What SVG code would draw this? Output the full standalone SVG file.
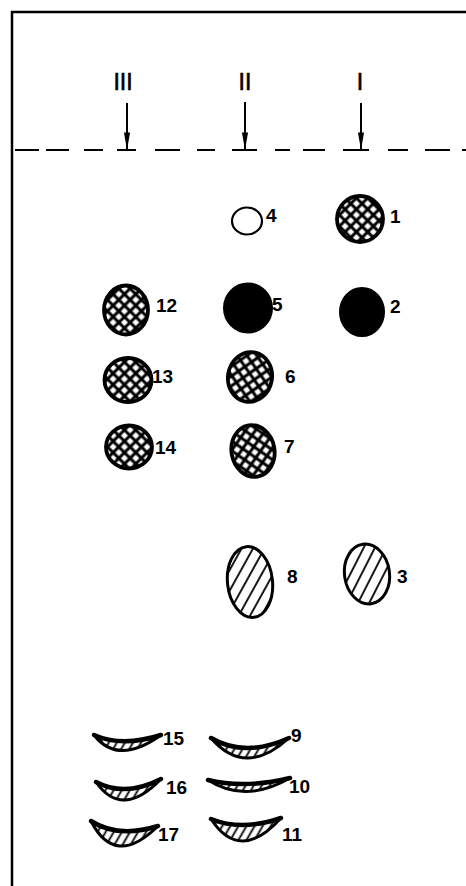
<svg xmlns="http://www.w3.org/2000/svg" width="466" height="886" viewBox="0 0 466 886">
<style>
.frame{fill:none;stroke:#000;stroke-width:2.5}
.dash{fill:none;stroke:#000;stroke-width:2.2}
.arrow{stroke:#000;stroke-width:2;marker-end:url(#ah)}
.roman{font-family:"Liberation Sans",Arial,sans-serif;font-weight:normal;font-size:23px;text-anchor:middle;fill:#000;stroke:#000;stroke-width:0.6}
.lbl{font-family:"Liberation Sans",Arial,sans-serif;font-weight:bold;font-size:19px;fill:#000}
.xh{fill:url(#cross);stroke:#000;stroke-width:3.8}
.solid{fill:#000;stroke:#000;stroke-width:2}
.open{fill:#fff;stroke:#000;stroke-width:2.2}
.dh{fill:url(#diag);stroke:#000;stroke-width:3}
.cr{fill:url(#hatch2);stroke:#000;stroke-width:3;stroke-linejoin:round}
.crtop{fill:none;stroke:#000;stroke-width:4.5;stroke-linecap:round}
</style>
<defs>
<marker id="ah" markerUnits="userSpaceOnUse" viewBox="0 0 20 8" markerWidth="20" markerHeight="7" refX="19" refY="4" orient="auto">
<path d="M0,0.5 L20,4 L0,7.5 Z" fill="#000"/>
</marker>
<pattern id="cross" patternUnits="userSpaceOnUse" width="8" height="8" patternTransform="rotate(45)">
<rect width="8" height="8" fill="#fff"/>
<path d="M0,0 H8 M0,8 H8 M0,0 V8 M8,0 V8" stroke="#000" stroke-width="3"/>
</pattern>
<pattern id="diag" patternUnits="userSpaceOnUse" width="10" height="10" patternTransform="rotate(35)">
<rect width="10" height="10" fill="#fff"/>
<path d="M5,0 V10" stroke="#000" stroke-width="1.8"/>
</pattern>
<pattern id="hatch2" patternUnits="userSpaceOnUse" width="7" height="7" patternTransform="rotate(30)">
<rect width="7" height="7" fill="#fff"/>
<path d="M3.5,0 V7" stroke="#000" stroke-width="1.8"/>
</pattern>
</defs>

<g id="plate">
<path class="frame" d="M12,886 V12 H466"/>
<path class="dash" d="M15,150H39 M46,150H69 M84,150H103 M117,150H136 M155,150H180 M197,150H215 M232,150H257 M275,150H290 M303,150H325 M343,150H369 M388,150H408 M425,150H450 M462,150H466"/>
</g>

<g id="origins">
<text class="roman" x="123" y="90">III</text>
<text class="roman" x="245" y="90">II</text>
<text class="roman" x="360" y="90">I</text>
<line class="arrow" x1="127" y1="103" x2="127" y2="149"/>
<line class="arrow" x1="245" y1="102" x2="245" y2="149"/>
<line class="arrow" x1="361" y1="103" x2="361" y2="149"/>
</g>

<g id="spot1"><ellipse class="xh" cx="360" cy="219" rx="23" ry="23"/><text class="lbl" x="390" y="223">1</text></g>
<g id="spot2"><ellipse class="solid" cx="362" cy="312" rx="22" ry="24"/><text class="lbl" x="390" y="313">2</text></g>
<g id="spot3"><ellipse class="dh" cx="367" cy="574" rx="22.5" ry="30" transform="rotate(-8 367 574)"/><text class="lbl" x="397" y="583">3</text></g>
<g id="spot4"><ellipse class="open" cx="247" cy="221" rx="15" ry="13.5"/><text class="lbl" x="266" y="222">4</text></g>
<g id="spot5"><ellipse class="solid" cx="248" cy="308" rx="24" ry="24.5"/><text class="lbl" x="272" y="311">5</text></g>
<g id="spot6"><ellipse class="xh" cx="250" cy="377" rx="22" ry="25" transform="rotate(10 250 377)"/><text class="lbl" x="285" y="383">6</text></g>
<g id="spot7"><ellipse class="xh" cx="253" cy="451" rx="21.5" ry="26" transform="rotate(-10 253 451)"/><text class="lbl" x="284" y="453">7</text></g>
<g id="spot8"><ellipse class="dh" cx="250" cy="582" rx="22.5" ry="35.5" transform="rotate(-6 250 582)"/><text class="lbl" x="287" y="583">8</text></g>
<g id="spot12"><ellipse class="xh" cx="126" cy="310" rx="22" ry="24.5"/><text class="lbl" x="156" y="312">12</text></g>
<g id="spot13"><ellipse class="xh" cx="128" cy="380" rx="23.5" ry="22"/><text class="lbl" x="152" y="383">13</text></g>
<g id="spot14"><ellipse class="xh" cx="129" cy="447" rx="23" ry="21.5"/><text class="lbl" x="155" y="454">14</text></g>

<g id="spot15"><path class="cr" d="M94,735 Q122,747.5 161,735 Q118,766 94,735 Z"/><path class="crtop" d="M94,735 Q122,747.5 161,735"/><text class="lbl" x="163" y="745">15</text></g>
<g id="spot9"><path class="cr" d="M211,738 Q245,758 289,738 Q245,778 211,738 Z"/><path class="crtop" d="M211,738 Q245,758 289,738"/><text class="lbl" x="291" y="742">9</text></g>
<g id="spot16"><path class="cr" d="M96,782 Q125,797.5 161,779 Q122,819.5 96,782 Z"/><path class="crtop" d="M96,782 Q125,797.5 161,779"/><text class="lbl" x="166" y="794">16</text></g>
<g id="spot10"><path class="cr" d="M208,780 Q245,789 290,778 Q245,804 208,780 Z"/><path class="crtop" d="M208,780 Q245,789 290,778"/><text class="lbl" x="289" y="793">10</text></g>
<g id="spot17"><path class="cr" d="M91,821 Q118,838.5 158,826 Q115,868.5 91,821 Z"/><path class="crtop" d="M91,821 Q118,838.5 158,826"/><text class="lbl" x="158" y="841">17</text></g>
<g id="spot11"><path class="cr" d="M211,819 Q242,831.5 281,818 Q240,863.5 211,819 Z"/><path class="crtop" d="M211,819 Q242,831.5 281,818"/><text class="lbl" x="282" y="841">11</text></g>
</svg>
